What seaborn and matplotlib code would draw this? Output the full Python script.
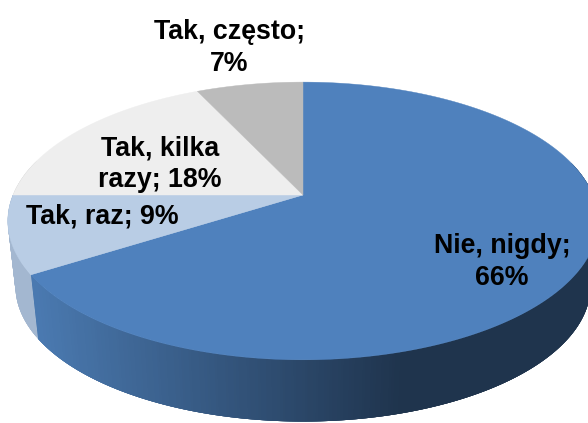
import numpy as np
import matplotlib
matplotlib.use("Agg")
import matplotlib.pyplot as plt
import seaborn as sns

# answers, clockwise from 12 o'clock
labels = ["Nie, nigdy;\n66%", "Tak, raz; 9%", "Tak, kilka\nrazy; 18%", "Tak, często;\n7%"]
values = [66, 9, 18, 7]
face_colors = ["#4F81BD", "#B9CDE5", "#EEEEEE", "#BBBBBB"]
wall_starts = ["#4A79B0", "#A3B7D0", "#CCCCCC", "#999999"]
wall_ends = ["#1F344D", "#8FA3BC", "#CCCCCC", "#999999"]
label_xy = [(502, 262), (102, 217), (160, 164), (229, 48)]

# pie geometry in pixels
CX, CY = 303, 195
RX, RY = 290, 134
PERSP = 0.187
DEPTH = 66
SHRINK = 0.974


def project(theta):
    # theta is clockwise from the top, perspective tilted disc
    u, v = np.sin(theta), np.cos(theta)
    w = 1 + PERSP * v
    return CX + RX * u / w, CY - RY * v / w


def lower(x, y):
    return CX + SHRINK * (x - CX), CY + SHRINK * (y - CY) + DEPTH


sns.set_theme(style="white")
plt.rcParams["font.family"] = ["Liberation Sans", "DejaVu Sans"]

fig, ax = plt.subplots(figsize=(5.88, 4.23), dpi=100)
ax.set_position([0, 0, 1, 1])
ax.set_xlim(0, 588)
ax.set_ylim(423, 0)
ax.axis("off")

edges = np.cumsum([0] + values) / sum(values) * 2 * np.pi

# side wall first, shaded left to right, each strip overlaps the next so no seams show
for i in range(len(values)):
    ramp = sns.blend_palette([wall_starts[i], wall_ends[i]], 101)
    steps = np.linspace(edges[i], edges[i + 1], int(values[i] * 8) + 2)
    for a, b in zip(steps[:-1], steps[1:]):
        if np.cos((a + b) / 2) > 0.25:
            continue
        b2 = min(b + 3 * (b - a), edges[i + 1])
        xa, ya = project(a)
        xb, yb = project(b2)
        xc, yc = lower(xb, yb)
        xd, yd = lower(xa, ya)
        mid_x = project((a + b) / 2)[0]
        pos = np.clip((mid_x - 35) / (400 - 35), 0, 1)
        c = ramp[int(pos * 100)]
        ax.fill([xa, xb, xc, xd], [ya, yb, yc, yd], color=c, lw=0, zorder=1 + 0.001 * (b - edges[0]))

# top face
for i in range(len(values)):
    t = np.linspace(edges[i], edges[i + 1], 200)
    x, y = project(t)
    ax.fill(np.r_[CX, x], np.r_[CY, y], color=face_colors[i], lw=0.3, zorder=2)

for lab, (x, y) in zip(labels, label_xy):
    ax.text(x, y, lab, ha="center", va="center", fontsize=19.3, fontweight="bold",
            color="black", linespacing=1.3, zorder=3)

fig.savefig("out.png", dpi=100, facecolor="white")
